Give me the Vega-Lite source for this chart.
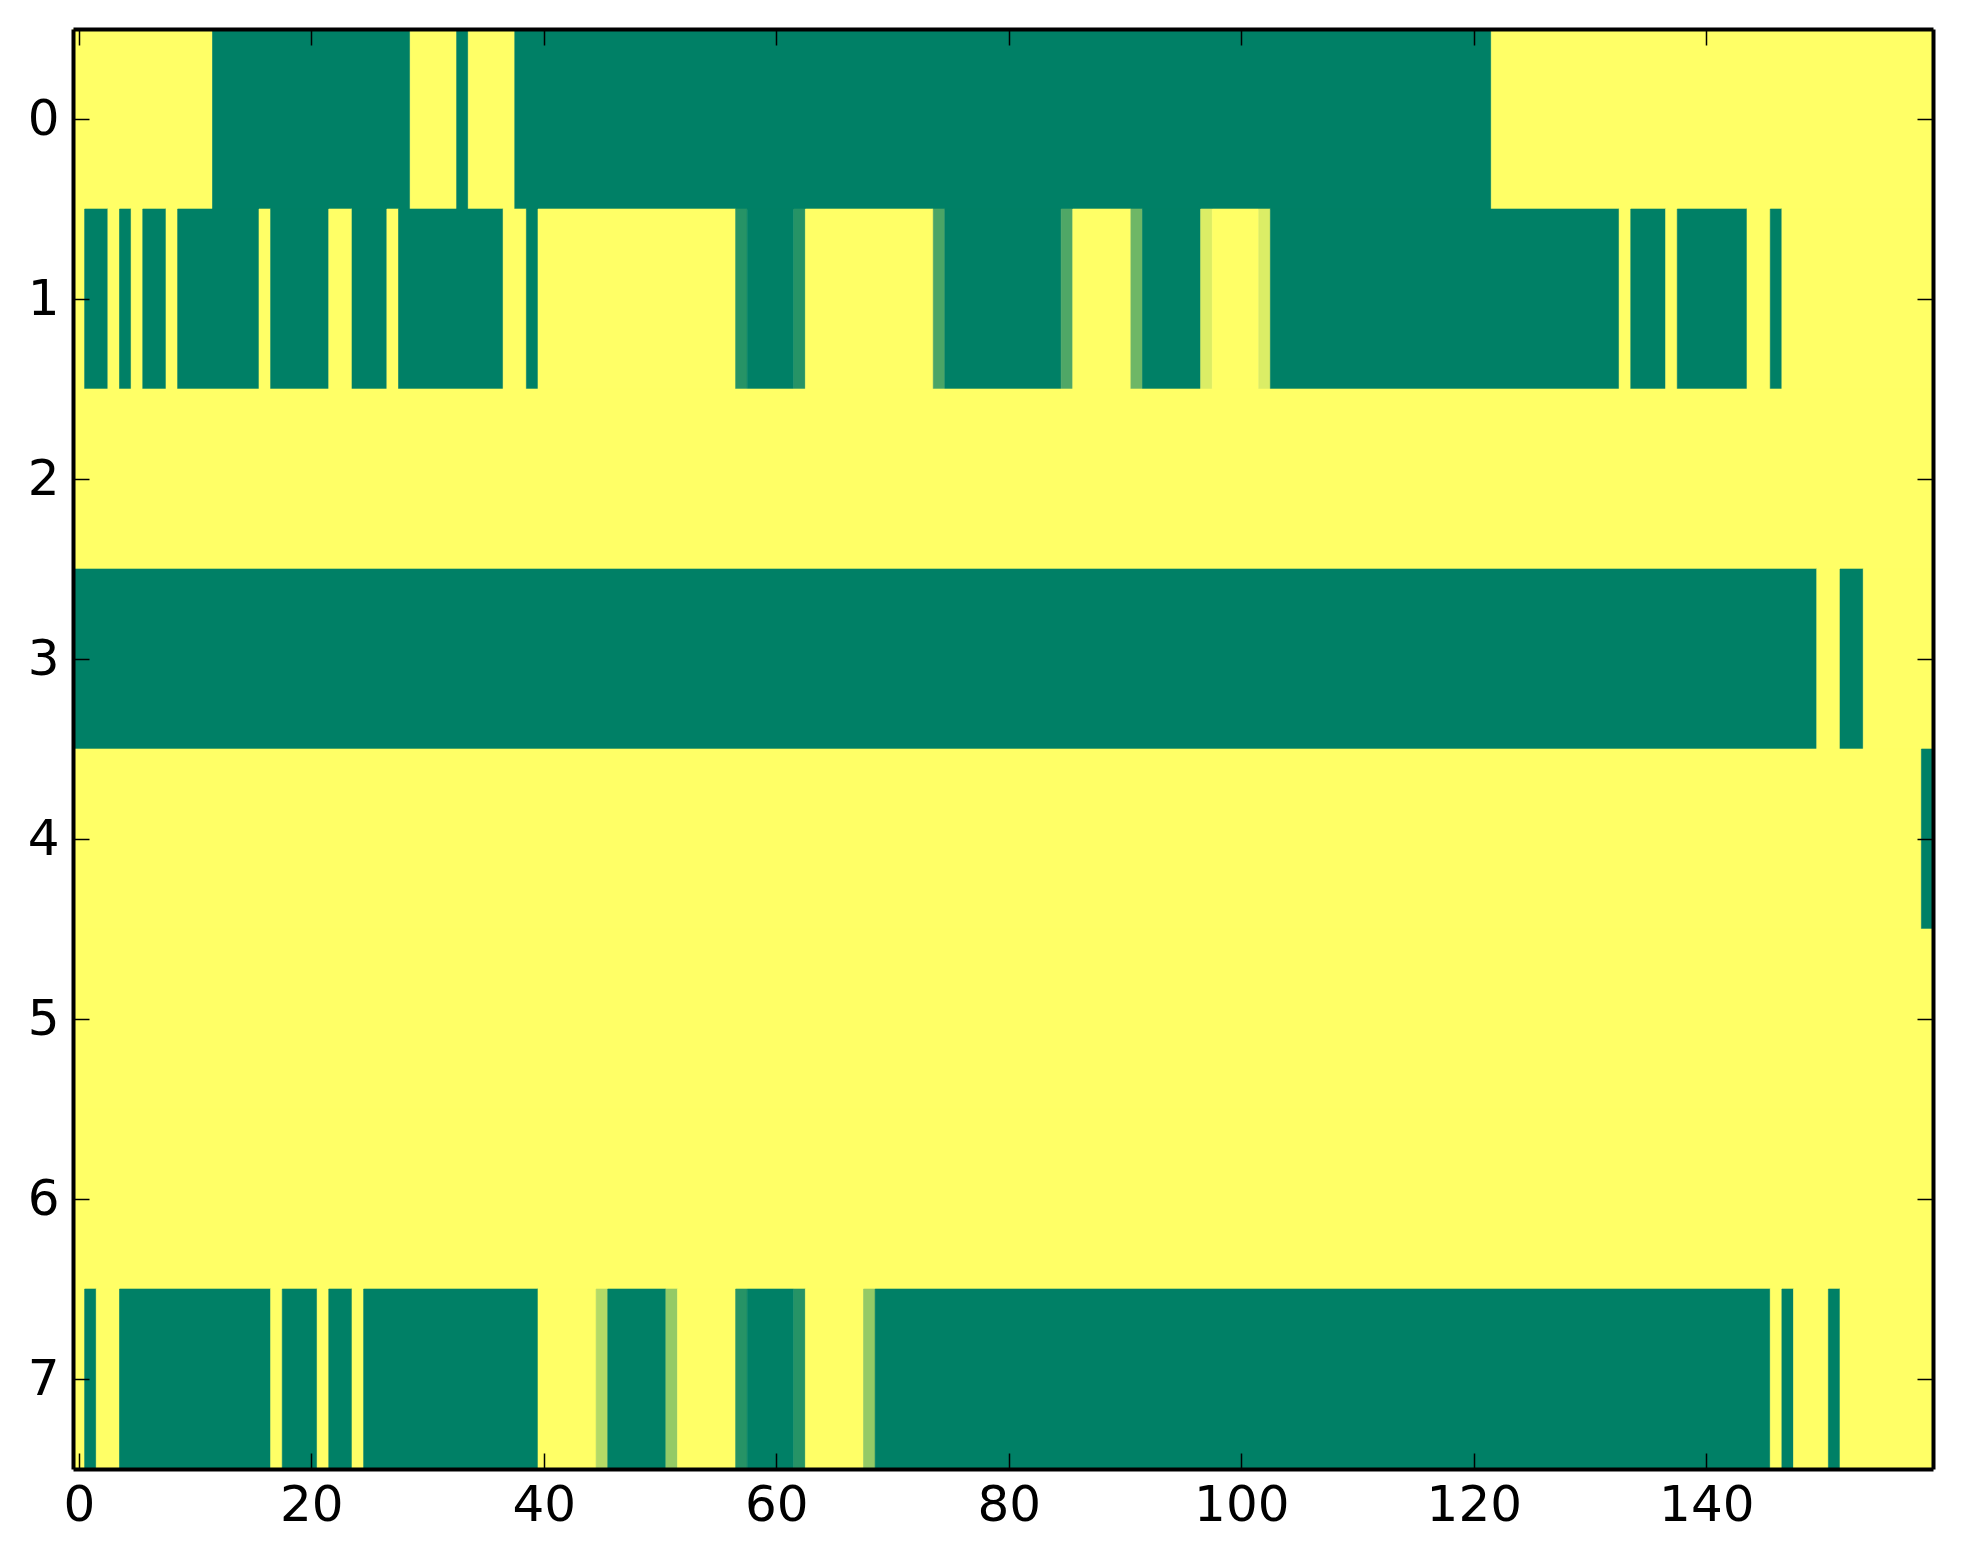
{
  "$schema": "https://vega.github.io/schema/vega-lite/v6.json",
  "autosize": "none",
  "width": 1860,
  "height": 1440,
  "padding": {"left": 73, "top": 29, "right": 30, "bottom": 95},
  "background": "white",
  "config": {
    "view": {"stroke": null},
    "axis": {"labelFont": "DejaVu Sans", "labelFontSize": 50, "labelColor": "black", "domainColor": "black", "domainWidth": 4, "tickColor": "black", "tickWidth": 1.5, "tickSize": -16, "grid": false, "title": null}
  },
  "data": {"values": [
    {"r0": -0.5, "r1": 0.5, "c0": -0.5, "c1": 11.5, "v": 1},
    {"r0": -0.5, "r1": 0.5, "c0": 11.5, "c1": 28.5, "v": 0},
    {"r0": -0.5, "r1": 0.5, "c0": 28.5, "c1": 32.5, "v": 1},
    {"r0": -0.5, "r1": 0.5, "c0": 32.5, "c1": 33.5, "v": 0},
    {"r0": -0.5, "r1": 0.5, "c0": 33.5, "c1": 37.5, "v": 1},
    {"r0": -0.5, "r1": 0.5, "c0": 37.5, "c1": 121.5, "v": 0},
    {"r0": -0.5, "r1": 0.5, "c0": 121.5, "c1": 159.5, "v": 1},

    {"r0": 0.5, "r1": 1.5, "c0": -0.5, "c1": 0.5, "v": 1},
    {"r0": 0.5, "r1": 1.5, "c0": 0.5, "c1": 2.5, "v": 0},
    {"r0": 0.5, "r1": 1.5, "c0": 2.5, "c1": 3.5, "v": 1},
    {"r0": 0.5, "r1": 1.5, "c0": 3.5, "c1": 4.5, "v": 0},
    {"r0": 0.5, "r1": 1.5, "c0": 4.5, "c1": 5.5, "v": 1},
    {"r0": 0.5, "r1": 1.5, "c0": 5.5, "c1": 7.5, "v": 0},
    {"r0": 0.5, "r1": 1.5, "c0": 7.5, "c1": 8.5, "v": 1},
    {"r0": 0.5, "r1": 1.5, "c0": 8.5, "c1": 15.5, "v": 0},
    {"r0": 0.5, "r1": 1.5, "c0": 15.5, "c1": 16.5, "v": 1},
    {"r0": 0.5, "r1": 1.5, "c0": 16.5, "c1": 21.5, "v": 0},
    {"r0": 0.5, "r1": 1.5, "c0": 21.5, "c1": 23.5, "v": 1},
    {"r0": 0.5, "r1": 1.5, "c0": 23.5, "c1": 26.5, "v": 0},
    {"r0": 0.5, "r1": 1.5, "c0": 26.5, "c1": 27.5, "v": 1},
    {"r0": 0.5, "r1": 1.5, "c0": 27.5, "c1": 36.5, "v": 0},
    {"r0": 0.5, "r1": 1.5, "c0": 36.5, "c1": 38.5, "v": 1},
    {"r0": 0.5, "r1": 1.5, "c0": 38.5, "c1": 39.5, "v": 0},
    {"r0": 0.5, "r1": 1.5, "c0": 39.5, "c1": 56.5, "v": 1},
    {"r0": 0.5, "r1": 1.5, "c0": 56.5, "c1": 57.5, "v": 0.15},
    {"r0": 0.5, "r1": 1.5, "c0": 57.5, "c1": 61.5, "v": 0},
    {"r0": 0.5, "r1": 1.5, "c0": 61.5, "c1": 62.5, "v": 0.15},
    {"r0": 0.5, "r1": 1.5, "c0": 62.5, "c1": 73.5, "v": 1},
    {"r0": 0.5, "r1": 1.5, "c0": 73.5, "c1": 74.5, "v": 0.29},
    {"r0": 0.5, "r1": 1.5, "c0": 74.5, "c1": 84.5, "v": 0},
    {"r0": 0.5, "r1": 1.5, "c0": 84.5, "c1": 85.5, "v": 0.31},
    {"r0": 0.5, "r1": 1.5, "c0": 85.5, "c1": 90.5, "v": 1},
    {"r0": 0.5, "r1": 1.5, "c0": 90.5, "c1": 91.5, "v": 0.43},
    {"r0": 0.5, "r1": 1.5, "c0": 91.5, "c1": 96.5, "v": 0},
    {"r0": 0.5, "r1": 1.5, "c0": 96.5, "c1": 97.5, "v": 0.86},
    {"r0": 0.5, "r1": 1.5, "c0": 97.5, "c1": 101.5, "v": 1},
    {"r0": 0.5, "r1": 1.5, "c0": 101.5, "c1": 102.5, "v": 0.86},
    {"r0": 0.5, "r1": 1.5, "c0": 102.5, "c1": 132.5, "v": 0},
    {"r0": 0.5, "r1": 1.5, "c0": 132.5, "c1": 133.5, "v": 1},
    {"r0": 0.5, "r1": 1.5, "c0": 133.5, "c1": 136.5, "v": 0},
    {"r0": 0.5, "r1": 1.5, "c0": 136.5, "c1": 137.5, "v": 1},
    {"r0": 0.5, "r1": 1.5, "c0": 137.5, "c1": 143.5, "v": 0},
    {"r0": 0.5, "r1": 1.5, "c0": 143.5, "c1": 145.5, "v": 1},
    {"r0": 0.5, "r1": 1.5, "c0": 145.5, "c1": 146.5, "v": 0},
    {"r0": 0.5, "r1": 1.5, "c0": 146.5, "c1": 159.5, "v": 1},

    {"r0": 1.5, "r1": 2.5, "c0": -0.5, "c1": 159.5, "v": 1},

    {"r0": 2.5, "r1": 3.5, "c0": -0.5, "c1": 149.5, "v": 0},
    {"r0": 2.5, "r1": 3.5, "c0": 149.5, "c1": 151.5, "v": 1},
    {"r0": 2.5, "r1": 3.5, "c0": 151.5, "c1": 153.5, "v": 0},
    {"r0": 2.5, "r1": 3.5, "c0": 153.5, "c1": 159.5, "v": 1},

    {"r0": 3.5, "r1": 4.5, "c0": -0.5, "c1": 158.5, "v": 1},
    {"r0": 3.5, "r1": 4.5, "c0": 158.5, "c1": 159.5, "v": 0},

    {"r0": 4.5, "r1": 5.5, "c0": -0.5, "c1": 159.5, "v": 1},
    {"r0": 5.5, "r1": 6.5, "c0": -0.5, "c1": 159.5, "v": 1},

    {"r0": 6.5, "r1": 7.5, "c0": -0.5, "c1": 0.5, "v": 1},
    {"r0": 6.5, "r1": 7.5, "c0": 0.5, "c1": 1.5, "v": 0},
    {"r0": 6.5, "r1": 7.5, "c0": 1.5, "c1": 3.5, "v": 1},
    {"r0": 6.5, "r1": 7.5, "c0": 3.5, "c1": 16.5, "v": 0},
    {"r0": 6.5, "r1": 7.5, "c0": 16.5, "c1": 17.5, "v": 1},
    {"r0": 6.5, "r1": 7.5, "c0": 17.5, "c1": 20.5, "v": 0},
    {"r0": 6.5, "r1": 7.5, "c0": 20.5, "c1": 21.5, "v": 1},
    {"r0": 6.5, "r1": 7.5, "c0": 21.5, "c1": 23.5, "v": 0},
    {"r0": 6.5, "r1": 7.5, "c0": 23.5, "c1": 24.5, "v": 1},
    {"r0": 6.5, "r1": 7.5, "c0": 24.5, "c1": 39.5, "v": 0},
    {"r0": 6.5, "r1": 7.5, "c0": 39.5, "c1": 44.5, "v": 1},
    {"r0": 6.5, "r1": 7.5, "c0": 44.5, "c1": 45.5, "v": 0.71},
    {"r0": 6.5, "r1": 7.5, "c0": 45.5, "c1": 50.5, "v": 0},
    {"r0": 6.5, "r1": 7.5, "c0": 50.5, "c1": 51.5, "v": 0.58},
    {"r0": 6.5, "r1": 7.5, "c0": 51.5, "c1": 56.5, "v": 1},
    {"r0": 6.5, "r1": 7.5, "c0": 56.5, "c1": 57.5, "v": 0.15},
    {"r0": 6.5, "r1": 7.5, "c0": 57.5, "c1": 61.5, "v": 0},
    {"r0": 6.5, "r1": 7.5, "c0": 61.5, "c1": 62.5, "v": 0.15},
    {"r0": 6.5, "r1": 7.5, "c0": 62.5, "c1": 67.5, "v": 1},
    {"r0": 6.5, "r1": 7.5, "c0": 67.5, "c1": 68.5, "v": 0.58},
    {"r0": 6.5, "r1": 7.5, "c0": 68.5, "c1": 145.5, "v": 0},
    {"r0": 6.5, "r1": 7.5, "c0": 145.5, "c1": 146.5, "v": 1},
    {"r0": 6.5, "r1": 7.5, "c0": 146.5, "c1": 147.5, "v": 0},
    {"r0": 6.5, "r1": 7.5, "c0": 147.5, "c1": 150.5, "v": 1},
    {"r0": 6.5, "r1": 7.5, "c0": 150.5, "c1": 151.5, "v": 0},
    {"r0": 6.5, "r1": 7.5, "c0": 151.5, "c1": 159.5, "v": 1}
  ]},
  "layer": [
    {
      "mark": {"type": "rect", "strokeWidth": 0.6},
      "encoding": {
        "x": {"field": "c0", "type": "quantitative", "scale": {"domain": [-0.5, 159.5], "nice": false, "zero": false},
              "axis": {"orient": "bottom", "zindex": 2, "values": [0, 20, 40, 60, 80, 100, 120, 140], "format": "d", "labelPadding": 27, "labelAngle": 0}},
        "x2": {"field": "c1"},
        "y": {"field": "r0", "type": "quantitative", "scale": {"domain": [-0.5, 7.5], "reverse": true, "nice": false, "zero": false},
              "axis": {"orient": "left", "zindex": 2, "values": [0, 1, 2, 3, 4, 5, 6, 7], "format": "d", "labelPadding": 30}},
        "y2": {"field": "r1"},
        "color": {"field": "v", "type": "quantitative", "scale": {"domain": [0, 1], "range": ["#008066", "#ffff66"], "interpolate": "rgb"}, "legend": null},
        "stroke": {"field": "v", "type": "quantitative", "scale": {"domain": [0, 1], "range": ["#008066", "#ffff66"], "interpolate": "rgb"}, "legend": null}
      }
    },
    {
      "mark": {"type": "rect", "opacity": 0},
      "encoding": {
        "x": {"field": "c0", "type": "quantitative", "axis": {"orient": "top", "zindex": 2, "values": [0, 20, 40, 60, 80, 100, 120, 140], "labels": false}},
        "x2": {"field": "c1"},
        "y": {"field": "r0", "type": "quantitative", "axis": {"orient": "right", "zindex": 2, "values": [0, 1, 2, 3, 4, 5, 6, 7], "labels": false}},
        "y2": {"field": "r1"}
      }
    }
  ],
  "resolve": {"axis": {"x": "independent", "y": "independent"}}
}
